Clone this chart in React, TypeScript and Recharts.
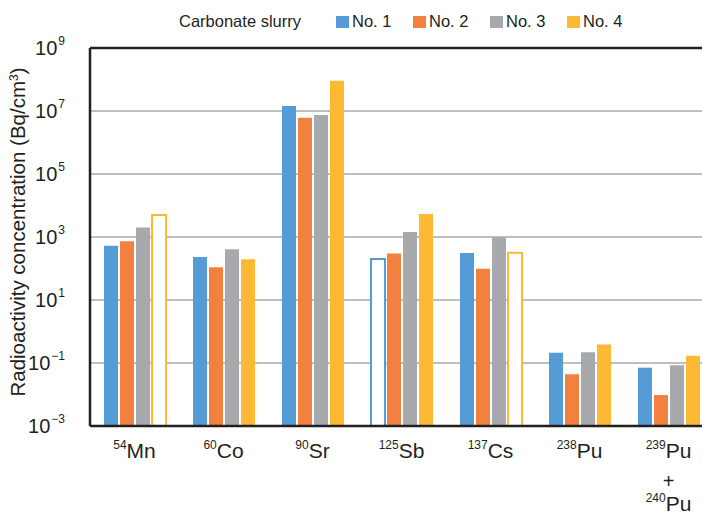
import React from "react";
import { BarChart, Bar, XAxis, YAxis, CartesianGrid, Cell, ReferenceLine } from "recharts";

// Nuclides (mass number + element) on the category axis
const MASS = ["54", "60", "90", "125", "137", "238", "239"];
const ELEMENT = ["Mn", "Co", "Sr", "Sb", "Cs", "Pu", "Pu"];

// Radioactivity concentration (Bq/cm3) per slurry sample
const NO1 = [525, 232, 1.44e7, 200, 310, 0.21, 0.071];
const NO2 = [730, 110, 6.1e6, 302, 98, 0.044, 0.0096];
const NO3 = [1990, 407, 7.5e6, 1440, 980, 0.22, 0.085];
const NO4 = [5000, 196, 9.1e7, 5370, 316, 0.39, 0.17];

// category indexes drawn as hollow bars (below detection limit)
const HOLLOW_NO1 = [3];
const HOLLOW_NO4 = [0, 4];

const Y_TICKS = [1e-3, 1e-1, 1e1, 1e3, 1e5, 1e7, 1e9];

const SERIES = [
  { key: "n1", name: "No. 1", color: "#559BD6", values: NO1, hollow: HOLLOW_NO1 },
  { key: "n2", name: "No. 2", color: "#F2803F", values: NO2, hollow: [] as number[] },
  { key: "n3", name: "No. 3", color: "#A8A9AC", values: NO3, hollow: [] as number[] },
  { key: "n4", name: "No. 4", color: "#FDB933", values: NO4, hollow: HOLLOW_NO4 },
];

const data = MASS.map((m, i) => ({
  id: m + ELEMENT[i],
  n1: NO1[i], n2: NO2[i], n3: NO3[i], n4: NO4[i],
}));

const FONT = "'Liberation Sans', Arial, sans-serif";
const INK = "#231f20";

const YTick = ({ y, payload }: any) => {
  const e = Math.round(Math.log10(payload.value));
  return (
    <text x={65} y={y + 7} textAnchor="end" fill={INK} fontFamily={FONT} fontSize={20}>
      <tspan>10</tspan>
      <tspan dx={1} dy={-10} fontSize={12}>{e < 0 ? "\u2212" + -e : String(e)}</tspan>
    </text>
  );
};

const XTick = ({ x, payload }: any) => {
  const i = payload.index;
  return (
    <g fill={INK} fontFamily={FONT}>
      <text x={x} y={458} textAnchor="middle">
        <tspan fontSize={12} dy={-9}>{MASS[i]}</tspan>
        <tspan fontSize={21} dy={9}>{ELEMENT[i]}</tspan>
      </text>
      {i === MASS.length - 1 && (
        <>
          <text x={x} y={488} textAnchor="middle" fontSize={20}>+</text>
          <text x={x} y={511} textAnchor="middle">
            <tspan fontSize={12} dy={-9}>240</tspan>
            <tspan fontSize={21} dy={9}>Pu</tspan>
          </text>
        </>
      )}
    </g>
  );
};

const YLabel = ({ viewBox }: any) => {
  const cy = viewBox.y + viewBox.height / 2 - 5;
  return (
    <text x={25} y={cy} transform={`rotate(-90 25 ${cy})`} textAnchor="middle" fill={INK} fontFamily={FONT} fontSize={20.5}>
      Radioactivity concentration (Bq/cm<tspan dy={-7} fontSize={12}>3</tspan><tspan dy={7}>)</tspan>
    </text>
  );
};

const LegendRow = () => (
  <div style={{ position: "absolute", left: 179, top: 12, display: "flex", alignItems: "center", fontFamily: FONT, fontSize: 16.5, color: INK }}>
    <span style={{ width: 157 }}>Carbonate slurry</span>
    {SERIES.map((s) => (
      <span key={s.key} style={{ display: "flex", alignItems: "center", width: 77 }}>
        <span style={{ width: 13, height: 12, background: s.color, marginRight: 3 }} />
        {s.name}
      </span>
    ))}
  </div>
);

export default function App() {
  return (
    <div style={{ position: "absolute", left: 0, top: 0, width: 702, height: 517, overflow: "hidden", background: "#fff" }}>
      <LegendRow />
      <BarChart width={720} height={517} data={data} margin={{ top: 48, right: 7, bottom: 0, left: 0 }} barSize={14} barGap={2}>
        <CartesianGrid vertical={false} stroke="#BDBEC0" strokeWidth={2} />
        <XAxis dataKey="id" height={91} tick={<XTick />} tickLine={false} interval={0} axisLine={{ stroke: INK, strokeWidth: 2.5 }} />
        <YAxis
          scale="log"
          domain={[1e-3, 1e9]}
          ticks={Y_TICKS}
          allowDataOverflow
          width={90}
          tick={<YTick />}
          tickLine={false}
          axisLine={{ stroke: INK, strokeWidth: 2.5 }}
          label={<YLabel />}
        />
        <ReferenceLine y={1e9} stroke={INK} strokeWidth={2.5} />
        {SERIES.map((s) => (
          <Bar key={s.key} dataKey={s.key} name={s.name} fill={s.color} isAnimationActive={false}>
            {s.values.map((_, i) =>
              s.hollow.includes(i) ? (
                <Cell key={i} fill="#fff" stroke={s.color} strokeWidth={2} />
              ) : (
                <Cell key={i} fill={s.color} />
              )
            )}
          </Bar>
        ))}
      </BarChart>
    </div>
  );
}
